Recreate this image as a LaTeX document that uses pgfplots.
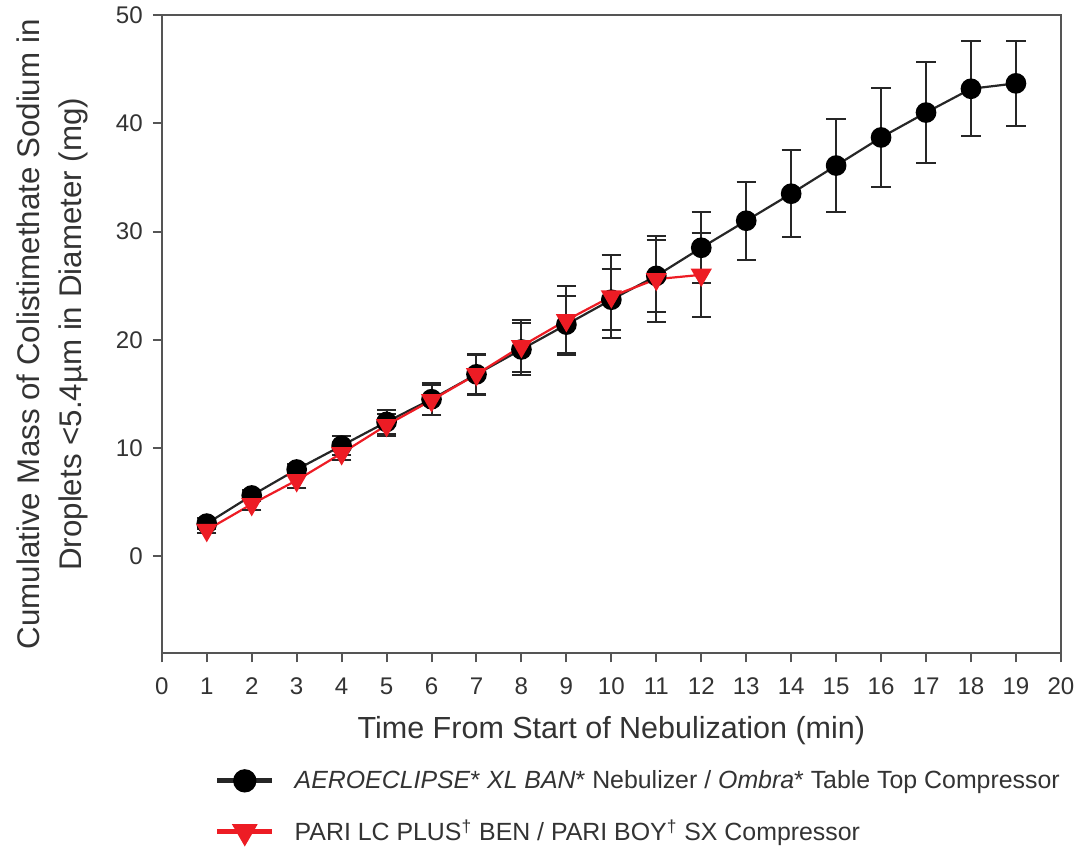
\documentclass[border=0pt]{standalone}
\usepackage{pgfplots}
\usepackage{pgfplotstable}
\usepackage{fontspec}
\setmainfont{Liberation Sans}
\pgfplotsset{compat=1.18}

\definecolor{axgray}{HTML}{555555}
\definecolor{txtgray}{HTML}{333333}
\definecolor{nebred}{HTML}{ED1C24}

% time (min), mean mass (mg), error
\pgfplotstableread{
t m e
1 3.0 0.5
2 5.6 0.5
3 8.0 0.5
4 10.2 0.9
5 12.4 1.1
6 14.5 1.5
7 16.8 1.9
8 19.1 2.4
9 21.4 2.6
10 23.7 2.8
11 25.9 3.3
12 28.5 3.3
13 31.0 3.6
14 33.5 4.0
15 36.1 4.3
16 38.7 4.6
17 41.0 4.7
18 43.2 4.4
19 43.7 3.9
}\aeroeclipse

\pgfplotstableread{
t m e
1 2.4 0.3
2 4.8 0.5
3 7.0 0.7
4 9.5 0.6
5 12.1 1.0
6 14.4 1.4
7 16.8 1.8
8 19.4 2.4
9 21.8 3.2
10 24.0 3.8
11 25.6 4.0
12 26.0 3.9
}\parilc

\begin{document}
\begin{tikzpicture}
\begin{axis}[
  name=main,
  scale only axis,
  width=448pt, height=318pt,
  xmin=0, xmax=20, ymin=-9, ymax=50,
  xtick={0,1,...,20}, ytick={0,10,...,50},
  tick align=outside, xtick pos=lower, ytick pos=left,
  major tick length=4.5pt,
  axis line style={axgray, line width=1pt},
  every tick/.style={axgray, line width=1pt},
  /pgf/number format/assume math mode=true,
  ticklabel style={font=\fontsize{12}{14}\selectfont, text=txtgray},
  xticklabel style={yshift=-4pt},
  yticklabel style={xshift=-1.5pt},
  xlabel={Time From Start of Nebulization (min)},
  ylabel={Cumulative Mass of Colistimethate Sodium in\\Droplets <5.4µm in Diameter (mg)},
  ylabel style={align=center, font=\fontsize{15.6}{21}\selectfont, text=txtgray},
  ylabel shift=7pt,
  xlabel style={font=\fontsize{15.2}{17}\selectfont, text=txtgray},
  xlabel shift=4pt,
  legend style={at={(0.052,-0.17)}, anchor=north west, draw=none,
    font=\fontsize{12.4}{15}\selectfont, text=txtgray, row sep=10pt,
    column sep=8pt, legend cell align=left},
  legend image code/.code={
    \draw[mark repeat=2, mark phase=2, line width=2.4pt, #1]
      plot coordinates {(0cm,0cm) (0.48cm,0cm) (0.96cm,0cm)};},
  clip=false,
]
\addplot[black!85, line width=1.1pt, mark=*, mark size=4.6pt,
  mark options={solid, fill=black, draw=black},
  error bars/.cd, y dir=both, y explicit,
  error bar style={black!85, line width=1pt},
  error mark options={rotate=90, mark size=4.8pt, black!85, line width=1pt}]
  table[x=t, y=m, y error=e] {\aeroeclipse};
\addlegendentry{\textit{AEROECLIPSE}* \textit{XL BAN}* Nebulizer / \textit{Ombra}* Table Top Compressor}
\addplot[nebred, line width=1.1pt, mark=triangle*, mark size=5pt,
  mark options={solid, rotate=180, fill=nebred, draw=nebred},
  error bars/.cd, y dir=both, y explicit,
  error bar style={black!85, line width=1pt},
  error mark options={rotate=90, mark size=4.8pt, black!85, line width=1pt}]
  table[x=t, y=m, y error=e] {\parilc};
\addlegendentry{PARI LC PLUS\textsuperscript{†} BEN / PARI BOY\textsuperscript{†} SX Compressor}
\end{axis}
% white margins as in the reference
\path (main.south east) ++(15pt,0) coordinate (padR);
\path (main.outer west) ++(-5pt,0) coordinate (padL);
\end{tikzpicture}
\end{document}
